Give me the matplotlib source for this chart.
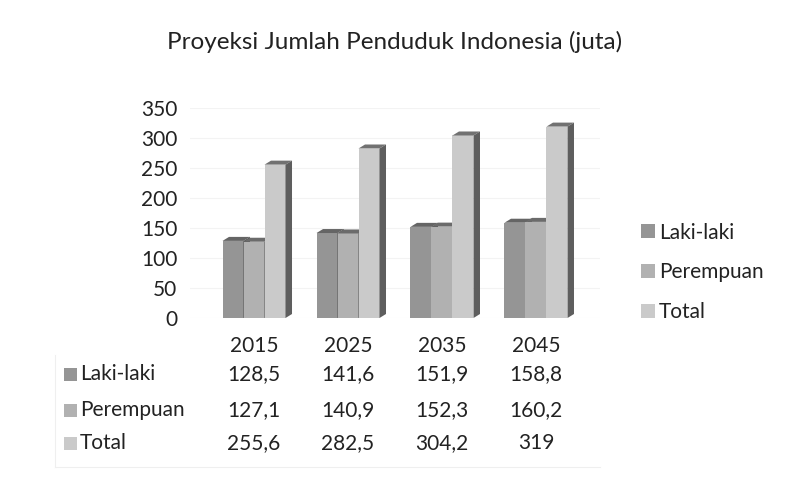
import numpy as np
import matplotlib
matplotlib.use('Agg')
import matplotlib.pyplot as plt
from matplotlib.patches import Polygon, Rectangle, Patch
from matplotlib.transforms import blended_transform_factory

years = ['2015', '2025', '2035', '2045']
laki = [128.5, 141.6, 151.9, 158.8]
perempuan = [127.1, 140.9, 152.3, 160.2]
total = [255.6, 282.5, 304.2, 319]
series_names = ['Laki-laki', 'Perempuan', 'Total']
yticks = [0, 50, 100, 150, 200, 250, 300, 350]

front_cols = ['#959595', '#b1b1b1', '#cacaca']
top_cols = ['#656565', '#6b6b6b', '#717171']
side_cols = ['#555555', '#5a5a5a', '#5e5e5e']

plt.rcParams['font.family'] = ['Lato', 'DejaVu Sans']
W, H = 785, 478
fig = plt.figure(figsize=(W / 100, H / 100), dpi=100)

# axes box in pixels: left 190, right 600, baseline 318, top 108
ax = fig.add_axes([190 / W, (H - 318) / H, 410 / W, 210 / H])
ax.set_xlim(-0.681, 3.681)
ax.set_ylim(0, 350)
for s in ax.spines.values():
    s.set_visible(False)

px_x = 410 / (3.681 + 0.681)   # pixels per x unit
px_y = 210 / 350               # pixels per y unit
dx = 6.5 / px_x
dy = 4.0 / px_y
w = 21 / px_x

fs = 15
ax.set_yticks(yticks)
ax.set_yticklabels([str(t) for t in yticks], fontsize=fs, color='#222222')
ax.tick_params(axis='y', length=0, pad=9)
ax.set_xticks(range(len(years)))
ax.set_xticklabels(years, fontsize=fs, color='#222222')
ax.tick_params(axis='x', length=0, pad=13)
ax.grid(axis='y', color='#f3f3f3', lw=0.8)
ax.set_axisbelow(True)

series = [laki, perempuan, total]
for i in range(len(years)):
    for k, vals in enumerate(series):
        v = vals[i]
        x0 = i + (k - 1.5) * w
        x1 = x0 + w
        ax.add_patch(Rectangle((x0, 0), w, v, facecolor=front_cols[k],
                               edgecolor='none', clip_on=False, zorder=3))
        ax.add_patch(Polygon([(x0, v), (x1, v), (x1 + dx, v + dy), (x0 + dx, v + dy)],
                             closed=True, facecolor=top_cols[k], edgecolor='none',
                             clip_on=False, zorder=3))
        ax.add_patch(Polygon([(x1, 0), (x1 + dx, dy), (x1 + dx, v + dy), (x1, v)],
                             closed=True, facecolor=side_cols[k], edgecolor='none',
                             clip_on=False, zorder=3))

fig.text(395 / W, (H - 42) / H, 'Proyeksi Jumlah Penduduk Indonesia (juta)',
         ha='center', va='center', fontsize=17.5, color='#222222')

# legend
handles = [Patch(facecolor=c, edgecolor='none') for c in front_cols]
fig.legend(handles, series_names, loc='center left',
           bbox_to_anchor=(641 / W, (H - 272.5) / H), frameon=False,
           fontsize=fs, labelspacing=0.95, handlelength=0.65, handleheight=0.65,
           handletextpad=0.2, borderpad=0, borderaxespad=0, labelcolor='#222222')

# data table
tr = blended_transform_factory(ax.transData, fig.transFigure)
row_y = [374, 410, 443]
for k, vals in enumerate(series):
    yf = (H - row_y[k]) / H
    fig.patches.append(Rectangle((64 / W, yf - 6.5 / H), 13 / W, 13 / H,
                                 transform=fig.transFigure, facecolor=front_cols[k],
                                 edgecolor='none'))
    fig.text(80 / W, yf, series_names[k], ha='left', va='center',
             fontsize=fs, color='#222222')
    for i, v in enumerate(vals):
        ax.text(i, yf, f'{v:g}'.replace('.', ','), transform=tr, ha='center',
                va='center', fontsize=fs, color='#222222')

# faint table borders
line_kw = dict(color='#efefef', lw=0.8, transform=fig.transFigure)
fig.add_artist(plt.Line2D([55 / W, 55 / W], [(H - 467) / H, (H - 355) / H], **line_kw))
fig.add_artist(plt.Line2D([55 / W, 600 / W], [(H - 467) / H, (H - 467) / H], **line_kw))

fig.savefig('out.png', dpi=100, facecolor='white')
